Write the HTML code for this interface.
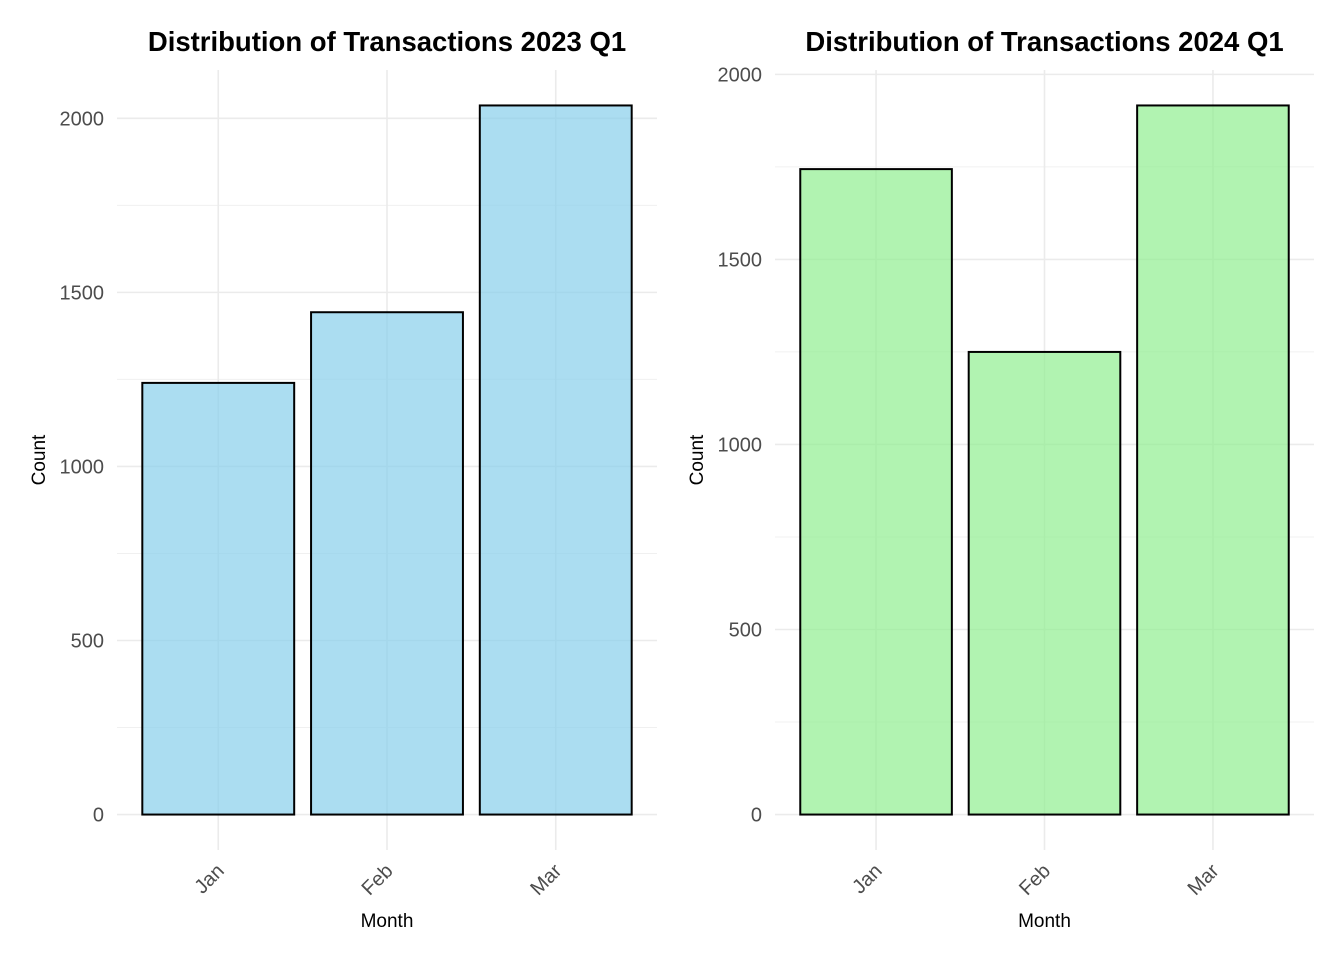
<!DOCTYPE html>
<html><head><meta charset="utf-8"><style>
body{margin:0;background:#fff;}
svg{display:block;font-family:"Liberation Sans",Arial,sans-serif;}
</style></head><body>
<svg id="chart" width="1344" height="960"></svg>
<script>
const months = ["Jan","Feb","Mar"];
const counts2023 = [1240, 1443, 2037];
const counts2024 = [1744, 1250, 1916];
const ticks2023 = [0, 500, 1000, 1500, 2000];
const ticks2024 = [0, 500, 1000, 1500, 2000];

const NS = "http://www.w3.org/2000/svg";
const svg = document.getElementById("chart");
function mk(tag, attrs, parent, text){
  const e = document.createElementNS(NS, tag);
  for (const k in attrs) e.setAttribute(k, attrs[k]);
  if (text !== undefined) e.textContent = text;
  (parent || svg).appendChild(e);
  return e;
}
function panel(name, title, values, ticks, x0, x1, fill){
  const g = mk("g", {});
  
  
  const maxV = Math.max(...values);
  const top = 70, bottom = 850;
  const lo = -0.05*maxV, hi = 1.05*maxV;
  const y = v => bottom - (v - lo)/(hi - lo)*(bottom - top);
  const unit = (x1 - x0)/3.2;
  const x = i => x0 + (i + 1 - 0.4)*unit;
  for (let k = 0; k < ticks.length - 1; k++){
    const m = (ticks[k] + ticks[k+1])/2;
    mk("line", {x1:x0, x2:x1, y1:y(m), y2:y(m), stroke:"#f0f0f0", "stroke-width":1}, g);
  }
  const last = ticks[ticks.length-1] + 250;
  if (y(last) > top) mk("line", {x1:x0, x2:x1, y1:y(last), y2:y(last), stroke:"#f0f0f0", "stroke-width":1}, g);
  ticks.forEach(t => {
    const l = mk("line", {x1:x0, x2:x1, y1:y(t), y2:y(t), stroke:"#ebebeb", "stroke-width":1.6}, g);
    
    
    const tl = mk("text", {x:x0-13, y:y(t)+7, "text-anchor":"end", "font-size":20, fill:"#4d4d4d"}, g, String(t));
    
    
  });
  months.forEach((m, i) => {
    mk("line", {x1:x(i), x2:x(i), y1:top, y2:bottom, stroke:"#ebebeb", "stroke-width":1.6}, g);
  });
  values.forEach((v, i) => {
    const w = 0.9*unit;
    const r = mk("rect", {x:x(i)-w/2, y:y(v), width:w, height:y(0)-y(v), fill:fill, "fill-opacity":0.7, stroke:"#000", "stroke-width":2}, g);
    
    
  });
  months.forEach((m, i) => {
    const t = mk("text", {x:x(i)+7, y:872, "text-anchor":"end", "font-size":20, fill:"#4d4d4d", transform:`rotate(-45 ${x(i)+7} 872)`}, g, m);
    
    
  });
  const cx = (x0 + x1)/2;
  const tt = mk("text", {x:cx, y:51, "text-anchor":"middle", "font-size":27.5, "font-weight":"bold", fill:"#000"}, g, title);
  
  
  const xt = mk("text", {x:cx, y:927, "text-anchor":"middle", "font-size":19, fill:"#000"}, g, "Month");
  
  
  const yx = x0 - 72, yy = (top + bottom)/2;
  const yt = mk("text", {x:yx, y:yy, "text-anchor":"middle", "font-size":19, fill:"#000", transform:`rotate(-90 ${yx} ${yy})`}, g, "Count");
  
  
}
panel("panel-2023", "Distribution of Transactions 2023 Q1", counts2023, ticks2023, 117, 657, "#87ceeb");
panel("panel-2024", "Distribution of Transactions 2024 Q1", counts2024, ticks2024, 775, 1314, "#90ee90");
</script>
</body></html>
